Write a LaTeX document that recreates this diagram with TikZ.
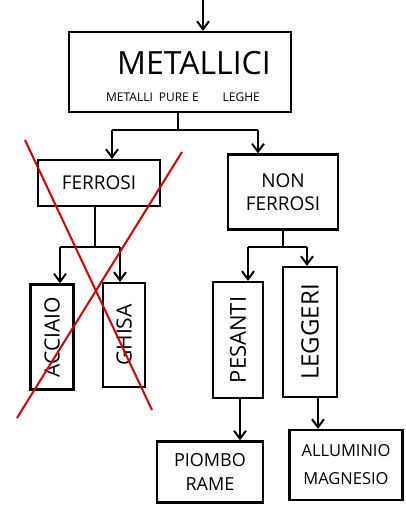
\documentclass[tikz,border=0pt]{standalone}
\usepackage{fontspec}
\setmainfont{Open Sans}
\usetikzlibrary{arrows.meta}
\begin{document}
\begin{tikzpicture}[x=1pt,y=-1pt,
  box/.style={draw=black,line width=2.2pt,inner sep=0pt,align=center},
  conn/.style={draw=black,line width=2pt},
  arr/.style={conn,-{Straight Barb[length=8pt,width=12pt,line width=2pt]}},
  cross/.style={draw=red!85!black,line width=2pt}]
\useasboundingbox (0,0) rectangle (406,507);
% nodes
\node[box,minimum width=222pt,minimum height=80pt] (met) at (180,72) {};
\node[font=\fontsize{32}{34}\selectfont] (mett) at (194,63) {METALLICI};
\node[font=\fontsize{12}{13}\selectfont] (mets) at (183,97) {METALLI\enspace PURE E\qquad LEGHE};
\node[box,minimum width=122pt,minimum height=46pt,font=\fontsize{19}{22}\selectfont] (fer) at (99,183) {FERROSI};
\node[box,minimum width=110pt,minimum height=75pt,font=\fontsize{19}{23}\selectfont] (nf) at (283,192) {NON\\FERROSI};
\node[box,minimum width=43pt,minimum height=105pt] (acc) at (52,337) {};
\node[rotate=90,font=\fontsize{21}{22}\selectfont] (acct) at (acc) {ACCIAIO};
\node[box,minimum width=42pt,minimum height=104pt] (ghi) at (124,335) {};
\node[rotate=90,font=\fontsize{21}{22}\selectfont] (ghit) at (ghi) {GHISA};
\node[box,minimum width=50pt,minimum height=116pt] (pes) at (238,340) {};
\node[rotate=90,font=\fontsize{22}{23}\selectfont] (pest) at (pes) {PESANTI};
\node[box,minimum width=54pt,minimum height=130pt] (leg) at (310,332) {};
\node[rotate=90,font=\fontsize{24}{25}\selectfont] (legt) at (leg) {LEGGERI};
\node[box,minimum width=106pt,minimum height=61pt,font=\fontsize{18}{24}\selectfont] (pio) at (210,472) {PIOMBO\\RAME};
\node[box,minimum width=113pt,minimum height=70pt,font=\fontsize{16.5}{28}\selectfont] (all) at (346,465) {ALLUMINIO\\MAGNESIO};
% coordinates
\coordinate (top) at (203,0);
\coordinate (j1) at (178,130);
\coordinate (j1l) at (112,130);
\coordinate (j1r) at (258,130);
\coordinate (j2) at (95,247);
\coordinate (j2l) at (60,247);
\coordinate (j2r) at (120,247);
\coordinate (j3) at (283,247);
\coordinate (j3l) at (248,247);
\coordinate (j3r) at (307,247);
% connectors
\draw[arr] (top) -- (top |- met.north);
\draw[conn] (met.south -| j1) -- (j1);
\draw[conn] (j1l) -- (j1r);
\draw[arr] (j1l) -- (j1l |- fer.north);
\draw[arr] (j1r) -- (j1r |- nf.north);
\draw[conn] (fer.south -| j2) -- (j2);
\draw[conn] (j2l) -- (j2r);
\draw[arr] (j2l) -- (j2l |- acc.north);
\draw[arr] (j2r) -- (j2r |- ghi.north);
\draw[conn] (nf.south -| j3) -- (j3);
\draw[conn] (j3l) -- (j3r);
\draw[arr] (j3l) -- (j3l |- pes.north);
\draw[arr] (j3r) -- (j3r |- leg.north);
\draw[arr] (pes.south -| 240,0) -- (pio.north -| 240,0);
\draw[arr] (leg.south -| 318,0) -- (all.north -| 318,0);
% red cross
\draw[cross] (25,140) -- (152,410);
\draw[cross] (182,152) -- (17,418);
\end{tikzpicture}
\end{document}
